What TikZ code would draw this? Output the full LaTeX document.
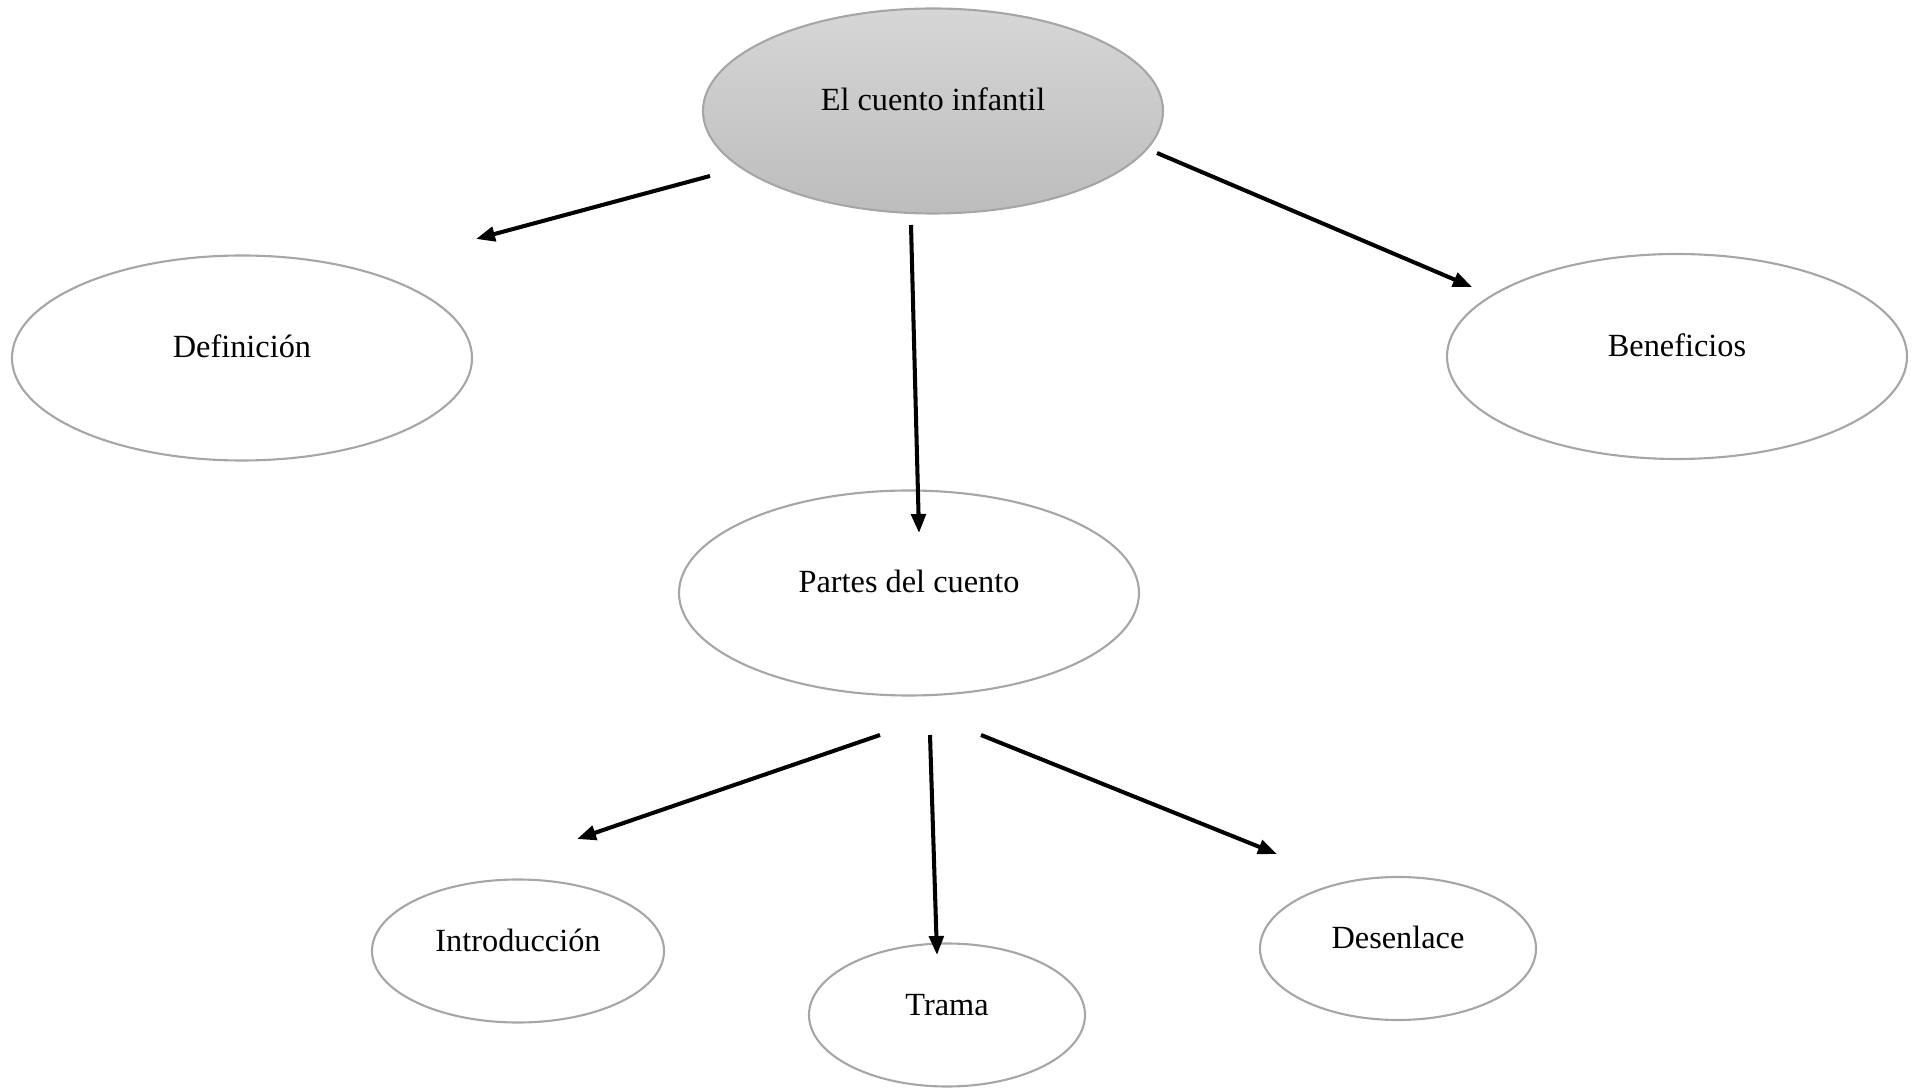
\documentclass[tikz,border=0pt]{standalone}
\usepackage{fontspec}
\setmainfont{Liberation Serif}
\usepackage{tikz}
\usetikzlibrary{shapes.geometric,arrows.meta}
\tikzset{
  idea/.style={ellipse, draw=black!35, line width=0.6pt, align=center,
               font=\fontsize{9.2}{11}\selectfont, text height=0.3cm, text depth=0.3cm,
               minimum width=4.6cm, minimum height=2.05cm, inner sep=0pt},
  part/.style={idea, minimum width=2.76cm, minimum height=1.43cm},
  top/.style={idea, top color=black!16, bottom color=black!26},
  arr/.style={-{Triangle[length=1.9mm,width=1.45mm]}, line width=1.15pt}
}
\begin{document}
\begin{tikzpicture}
  \useasboundingbox (0,0) rectangle (19.14,10.88);
  \node[top] (cuento) at (9.33,9.77) {El cuento infantil};
  \node[idea] (def) at (2.42,7.30) {Definición};
  \node[idea] (ben) at (16.77,7.315) {Beneficios};
  \node[idea] (partes) at (9.09,4.95) {Partes del cuento};
  \node[part, minimum width=2.92cm] (intro) at (5.18,1.37) {Introducción};
  \node[part] (trama) at (9.47,0.73) {Trama};
  \node[part] (des) at (13.98,1.395) {Desenlace};
  % loose arrow ends
  \coordinate (c1) at (7.10,9.12);  \coordinate (d1) at (4.76,8.49);
  \coordinate (c2) at (9.11,8.63);  \coordinate (d2) at (9.19,5.55);
  \coordinate (c3) at (11.57,9.35); \coordinate (d3) at (14.72,8.01);
  \coordinate (p1) at (8.80,3.53);  \coordinate (q1) at (5.77,2.49);
  \coordinate (p2) at (9.30,3.53);  \coordinate (q2) at (9.37,1.33);
  \coordinate (p3) at (9.81,3.53);  \coordinate (q3) at (12.77,2.34);
  \foreach \s/\e in {c1/d1,c2/d2,c3/d3,p1/q1,p2/q2,p3/q3} \draw[arr] (\s) -- (\e);
\end{tikzpicture}
\end{document}
